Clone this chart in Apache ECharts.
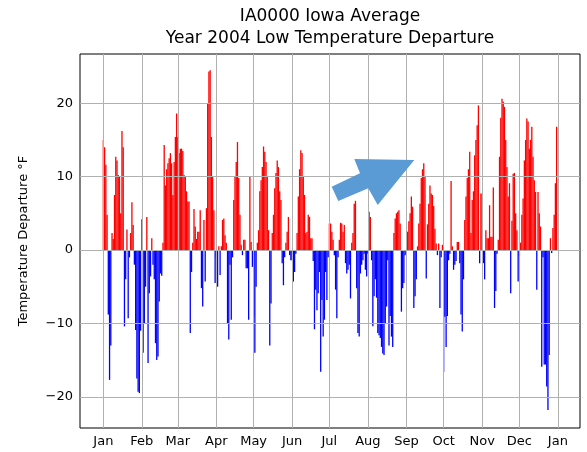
<!DOCTYPE html>
<html>
<head>
<meta charset="utf-8">
<script src="https://cdn.jsdelivr.net/npm/echarts@6/dist/echarts.min.js"></script>
<style>
html,body{margin:0;padding:0;background:#fff;}
#chart{width:587px;height:452px;}
</style>
</head>
<body>
<div id="chart"></div>
<script>
// Daily low temperature departures (°F), 2004, by month
const jan = [15, 14, 11.6, 4.8, -8.8, -17.7, -13, 2.3, 1.5, 7.5, 12.7, 12.2, 10.2, 10, 5, 16.2, 14, -10.4, -4, 2.8, -9.3, -1, 2.3, 6.5, 3.4, -2, -10.9, -17.5, -19.3, -19.5, -11];
const feb = [4.2, -14, -10, -5, 4.5, -15.4, -5.9, -3.6, 1.6, -2, -4, -12.7, -15, -14.5, -7, -3.2, -3.5, 1, 14.3, 8.8, 11, 11.8, 12.5, 13.2, 11.8, 7.5, 12, 15.4, 18.6];
const mar = [15.4, 13.2, 13.8, 13.8, 13.5, 10.2, 10, 8, 6.6, 6.6, -11.3, -3, 1, 5.6, 3.2, 1.5, 2.5, 2.5, 5.4, -5.2, -7.7, 4.1, -4.3, 5.7, 20, 24.3, 24.5, 15.4, 10, 5.4, -4.5];
const apr = [-1, -5, 0.5, -3.4, 0.5, 4.1, 4.3, 2, 1, -10, -12.2, -2, -9.5, -1, 6.8, 10, 12, 14.7, 9.8, 4.8, 0.7, -0.7, 1.4, 1.4, -2.5, -2.5, -9.5, 10, 1.1, -2.3];
const may = [-9, -14, -5, 1, 2.7, 8, 9.5, 11.3, 14.1, 13.4, 12, 10, 2.7, -13, -7.3, 2.3, 4.8, 8.4, 10.5, 12.2, 11.3, 8, 6.8, -1.8, -4.8, -1, 1, 2.5, 4.5, -0.7, -1.4];
const jun = [-1.4, -4.3, -3, -0.5, 2.3, 7.3, 11, 13.6, 13.2, 10, 7.5, 2.3, 2.5, 4.8, 4.5, 1.6, 1.6, -1.5, -10.8, -5.4, -8.2, -5.9, -3, -16.6, -6.8, -11.8, -9.5, -3, -6.8, -1];
const jul = [3.6, 3.6, 2.5, 1.4, -0.7, -5.4, -9.3, -1, 1.4, 3.7, 3.6, 2.5, 3.4, -1.8, -3.2, -2.7, -2, -6.6, 1, 2.3, 6.3, 6.7, -5.2, -11.3, -11.8, -3.2, -2, -1.4, -0.5, -2.7, -3.6];
const aug = [-0.5, 5.2, 4.5, -1.4, -10.4, -6.3, -4, -6.5, -11.3, -11.6, -12, -13.2, -14.1, -14.3, -10, -7.7, -1.4, -13, -9, -11.8, -13.2, 2.3, 4.3, 5, 5.2, 5.4, 3.6, -8.4, -5.2, -4.5, -0.7];
const sep = [-0.5, 2.5, 3.9, 5, 7.3, 5.9, -7.9, -6.3, -4, 0.5, 3.6, 6.3, 9.8, 11, 11.8, 10, -3.9, 3.5, 6.3, 8.8, 7.7, 7.5, 6, 2.9, 0.9, -0.7, 0.9, -7.9, -1, 0.7];
const oct = [-16.6, -9.1, -13.2, -9, -1.4, -0.5, 9.4, 0.5, -2.7, -2, -1.5, 1.1, 1.1, -1.8, -8.8, -11.1, -4, 4.1, 7.3, 9.8, 11, 13.4, 2.3, 6.8, 8, 12.9, 15, 17, 19.7, -1.8, 7.7];
const nov = [7.7, -1.8, -4, 2.7, 1.6, 1.6, 6.1, 1.8, 1.8, 8.5, -7.9, -5.6, -0.5, 1.4, 12.7, 18, 20.6, 20.2, 19.5, 15, 11.3, 7.3, 9.1, -5.9, 4, 10.4, 10.5, 5, 2.7, -4.3];
const dec = [-0.9, 1, 4.8, 7, 12.2, 15, 17.9, 17.5, 13.8, 15, 16.8, 12.7, 9.5, 7.9, -5.4, 7.9, 5, 3.2, -15.9, -1, -15.6, -15.6, -18.6, -21.8, -14.3, 1.6, -0.4, 3, 4.8, 9.1, 16.8];

// Tick labels and their positions (day of year at month start)
const monthLabels = ['Jan','Feb','Mar','Apr','May','Jun','Jul','Aug','Sep','Oct','Nov','Dec','Jan'];
const monthStarts = [0, 31, 60, 91, 121, 152, 182, 213, 244, 274, 305, 335, 366];
const yTicks = [-20, -10, 0, 10, 20];

const values = [].concat(jan, feb, mar, apr, may, jun, jul, aug, sep, oct, nov, dec);
const seriesData = values.map((v, i) => [i, v]);

const gridLines = monthStarts.map(d => ({xAxis: d})).concat(yTicks.map(v => ({yAxis: v})));

const chart = echarts.init(document.getElementById('chart'), null, {renderer: 'canvas'});
const FONT = 'DejaVu Sans';
chart.setOption({
  animation: false,
  backgroundColor: '#ffffff',
  grid: {left: 80, right: 7, top: 54, bottom: 24, show: true, borderColor: '#000', borderWidth: 1, backgroundColor: 'transparent'},
  xAxis: {
    type: 'value', min: -18.8, max: 383.8,
    axisLine: {show: false},
    axisTick: {show: true, length: 4, lineStyle: {color: '#000'}, customValues: monthStarts},
    axisLabel: {customValues: monthStarts, margin: 7, fontFamily: FONT, fontSize: 13, color: '#000',
      formatter: v => monthLabels[monthStarts.indexOf(Math.round(v))] || ''},
    splitLine: {show: false}
  },
  yAxis: {
    type: 'value', min: -24.25, max: 26.7,
    name: 'Temperature Departure \u00b0F', nameLocation: 'middle', nameGap: 50, nameRotate: 90,
    nameTextStyle: {fontFamily: FONT, fontSize: 13, color: '#000'},
    axisLine: {show: false},
    axisTick: {show: true, length: 4, lineStyle: {color: '#000'}, customValues: yTicks},
    axisLabel: {customValues: yTicks, margin: 7, fontFamily: FONT, fontSize: 13, color: '#000',
      formatter: v => (v < 0 ? '\u2212' + (-v) : String(v))},
    splitLine: {show: false}
  },
  series: [
    {
      type: 'bar', z: 2,
      data: seriesData,
      barWidth: 1.3,
      itemStyle: {color: p => (p.value[1] >= 0 ? '#ff0000' : '#0000ff')}
    },
    {
      type: 'line', z: 3, data: [], showSymbol: false, silent: true,
      markLine: {silent: true, z: 3, symbol: ['none', 'none'], label: {show: false},
        lineStyle: {color: '#b0b0b0', type: 'solid', width: 1}, data: gridLines}
    }
  ],
  graphic: [
    {type: 'text', x: 330, y: 8, style: {text: 'IA0000 Iowa Average', textAlign: 'center', fontFamily: FONT, fontSize: 17, fill: '#000'}},
    {type: 'text', x: 330, y: 30, style: {text: 'Year 2004 Low Temperature Departure', textAlign: 'center', fontFamily: FONT, fontSize: 17, fill: '#000'}},
    {type: 'polygon', z: 100, shape: {points: [[331.7,186.7],[360,173.3],[354.3,159],[414.3,160],[377.7,205],[368.3,188.3],[338.3,201]]}, style: {fill: '#5B9BD5'}}
  ]
});
</script>
</body>
</html>
